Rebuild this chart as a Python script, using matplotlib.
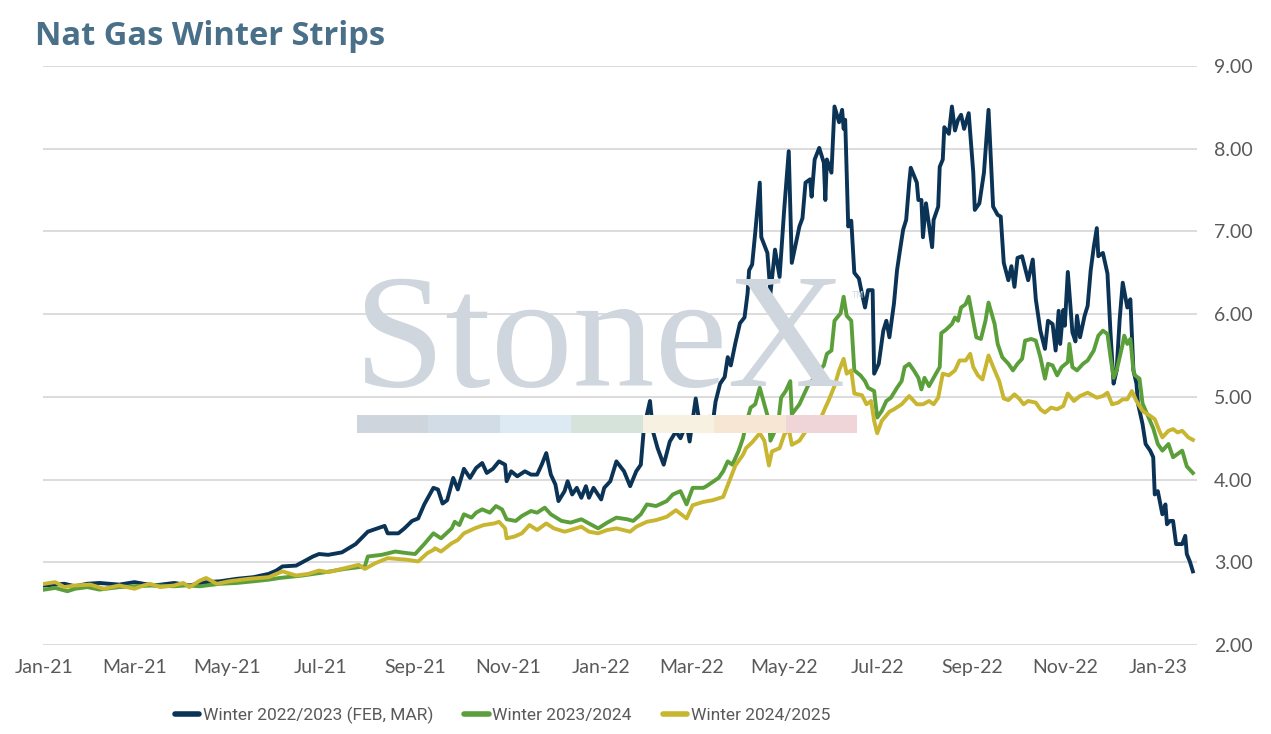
import numpy as np
import pandas as pd
import matplotlib
matplotlib.use('Agg')
import matplotlib.pyplot as plt
import matplotlib.dates as mdates
from matplotlib.ticker import FuncFormatter

START = pd.Timestamp('2021-01-01')

# days since 2021-01-01 / settle price
w2223_days = [0, 13, 20, 28, 36, 49, 59, 65, 72, 85, 95, 106, 115, 126, 137, 147, 152, 156, 165, 176,
              180, 186, 195, 204, 212, 223, 225, 232, 236, 241, 245, 249, 255, 258, 261, 264, 268, 271, 275, 279,
              283, 287, 290, 294, 298, 302, 303, 306, 310, 315, 319, 323, 326, 329, 332, 335, 337, 341, 343, 346,
              349, 352, 355, 357, 360, 365, 367, 371, 375, 380, 384, 388, 391, 393, 397, 399, 402, 406, 410, 414,
              417, 421, 423, 427, 430, 434, 436, 438, 440, 443, 446, 448, 450, 453, 456, 459, 461, 462, 464, 466,
              469, 470, 474, 476, 479, 482, 485, 488, 490, 495, 497, 499, 502, 503, 505, 508, 511, 512, 513, 516,
              518, 521, 523, 524, 525, 527, 529, 531, 534, 536, 538, 540, 543, 544, 547, 550, 552, 554, 557, 559,
              561, 563, 565, 567, 568, 572, 573, 575, 576, 578, 582, 583, 586, 587, 589, 590, 593, 595, 597, 599,
              601, 603, 606, 609, 610, 613, 616, 619, 622, 625, 627, 629, 632, 634, 636, 638, 641, 645, 648, 650,
              653, 656, 658, 661, 663, 665, 666, 668, 669, 671, 674, 676, 677, 679, 682, 684, 686, 688, 690, 691,
              694, 697, 699, 701, 703, 705, 707, 710, 712, 714, 716, 717, 720, 722, 725, 727, 728, 730, 733, 735,
              736, 738, 740, 742, 746, 748, 749, 751, 753]
w2223_vals = [2.72, 2.74, 2.71, 2.74, 2.75, 2.73, 2.76, 2.74, 2.72, 2.75, 2.72, 2.76, 2.77, 2.80, 2.82, 2.86, 2.90, 2.95, 2.96, 3.07,
              3.10, 3.09, 3.12, 3.22, 3.37, 3.44, 3.35, 3.35, 3.41, 3.50, 3.53, 3.70, 3.90, 3.88, 3.71, 3.75, 4.02, 3.88, 4.13, 4.02,
              4.14, 4.20, 4.08, 4.13, 4.22, 4.18, 3.98, 4.10, 4.04, 4.10, 4.06, 4.06, 4.18, 4.32, 4.06, 3.94, 3.74, 3.86, 3.98, 3.82,
              3.90, 3.78, 3.92, 3.78, 3.90, 3.76, 3.90, 3.98, 4.22, 4.10, 3.92, 4.10, 4.18, 4.62, 4.95, 4.58, 4.38, 4.18, 4.46, 4.58,
              4.50, 4.68, 4.46, 4.98, 4.62, 4.64, 4.76, 4.66, 4.94, 5.16, 5.24, 5.48, 5.38, 5.65, 5.89, 5.96, 6.25, 6.53, 6.60, 6.98,
              7.59, 6.93, 6.74, 6.25, 6.78, 6.45, 7.26, 7.97, 6.62, 7.06, 7.16, 7.59, 7.63, 7.42, 7.87, 8.01, 7.83, 7.38, 7.87, 7.71,
              8.51, 8.32, 8.47, 8.24, 8.35, 7.06, 7.13, 6.50, 6.43, 6.25, 6.08, 6.29, 6.29, 5.28, 5.40, 5.80, 5.92, 5.72, 6.13, 6.53,
              6.78, 7.02, 7.14, 7.59, 7.77, 7.59, 7.38, 7.38, 6.93, 7.34, 6.81, 7.14, 7.30, 7.78, 7.87, 8.26, 8.18, 8.51, 8.22, 8.35,
              8.41, 8.24, 8.43, 7.71, 7.26, 7.34, 7.71, 8.47, 7.30, 7.20, 7.18, 6.62, 6.41, 6.58, 6.33, 6.68, 6.70, 6.41, 6.66, 6.18,
              5.80, 5.58, 5.92, 5.88, 5.56, 6.04, 5.64, 6.05, 5.86, 6.51, 5.78, 5.67, 5.98, 5.72, 5.98, 6.10, 6.53, 6.81, 7.04, 6.70,
              6.74, 6.49, 5.77, 5.16, 5.32, 5.94, 6.38, 6.08, 6.18, 5.32, 5.16, 4.92, 4.67, 4.43, 4.35, 4.27, 3.82, 3.86, 3.58, 3.70,
              3.46, 3.50, 3.50, 3.22, 3.22, 3.32, 3.10, 3.01, 2.89]

w2324_days = [0, 7, 13, 15, 20, 28, 36, 49, 59, 72, 85, 93, 102, 115, 126, 137, 147, 154, 169, 184,
              197, 210, 212, 221, 230, 238, 243, 249, 255, 260, 267, 269, 272, 275, 280, 283, 287, 292, 296, 300,
              303, 309, 313, 319, 323, 328, 332, 339, 345, 352, 358, 363, 369, 375, 382, 386, 391, 395, 401, 408,
              412, 417, 421, 425, 432, 434, 438, 442, 445, 448, 451, 455, 458, 460, 463, 466, 469, 472, 475, 476,
              481, 483, 486, 489, 490, 495, 498, 501, 505, 508, 511, 513, 516, 518, 522, 524, 526, 529, 531, 535,
              538, 540, 544, 546, 549, 552, 555, 559, 562, 564, 567, 570, 573, 575, 577, 580, 583, 587, 588, 591,
              595, 597, 599, 601, 604, 606, 609, 611, 614, 617, 619, 623, 625, 628, 632, 635, 638, 641, 643, 647,
              650, 653, 656, 658, 661, 664, 667, 671, 672, 674, 677, 681, 684, 688, 691, 694, 697, 699, 701, 703,
              707, 708, 710, 712, 714, 715, 718, 720, 723, 727, 730, 733, 737, 740, 743, 746, 749, 753]
w2324_vals = [2.67, 2.69, 2.66, 2.65, 2.68, 2.70, 2.67, 2.70, 2.71, 2.72, 2.71, 2.72, 2.71, 2.74, 2.75, 2.77, 2.79, 2.81, 2.84, 2.88,
              2.92, 2.95, 3.07, 3.09, 3.13, 3.11, 3.10, 3.22, 3.35, 3.29, 3.41, 3.49, 3.45, 3.58, 3.54, 3.60, 3.64, 3.60, 3.68, 3.64,
              3.52, 3.50, 3.56, 3.62, 3.60, 3.66, 3.58, 3.50, 3.48, 3.52, 3.46, 3.41, 3.48, 3.54, 3.52, 3.50, 3.58, 3.70, 3.68, 3.74,
              3.82, 3.86, 3.70, 3.90, 3.90, 3.92, 3.97, 4.02, 4.10, 4.22, 4.18, 4.34, 4.50, 4.67, 4.87, 4.91, 5.11, 4.91, 4.71, 4.47,
              4.67, 4.99, 5.07, 5.19, 4.79, 4.91, 5.03, 5.15, 5.23, 5.32, 5.38, 5.52, 5.56, 5.92, 6.01, 6.21, 5.98, 5.92, 5.32, 5.26,
              5.19, 5.11, 5.07, 4.75, 4.83, 4.95, 4.99, 5.11, 5.19, 5.36, 5.40, 5.32, 5.23, 5.09, 5.23, 5.13, 5.23, 5.36, 5.77, 5.81,
              5.88, 5.96, 5.92, 6.08, 6.12, 6.21, 5.92, 5.72, 5.70, 5.92, 6.14, 5.88, 5.64, 5.48, 5.40, 5.32, 5.40, 5.46, 5.68, 5.70,
              5.68, 5.48, 5.22, 5.40, 5.38, 5.26, 5.36, 5.42, 5.64, 5.36, 5.32, 5.40, 5.44, 5.56, 5.74, 5.80, 5.76, 5.48, 5.23, 5.32,
              5.64, 5.74, 5.64, 5.70, 5.32, 5.26, 5.22, 4.92, 4.79, 4.62, 4.43, 4.35, 4.43, 4.27, 4.31, 4.35, 4.16, 4.08]

w2425_days = [0, 7, 13, 20, 30, 39, 49, 59, 65, 69, 76, 85, 91, 95, 102, 106, 113, 121, 134, 147,
              156, 165, 173, 180, 186, 195, 206, 210, 217, 225, 238, 245, 251, 255, 256, 260, 267, 271, 275, 282,
              288, 295, 298, 302, 303, 308, 313, 318, 323, 329, 334, 341, 345, 352, 357, 363, 369, 375, 384, 388,
              395, 401, 408, 414, 421, 425, 432, 438, 445, 449, 453, 458, 460, 464, 469, 472, 475, 477, 482, 485,
              488, 490, 495, 499, 503, 508, 512, 514, 518, 521, 524, 526, 529, 531, 536, 539, 542, 544, 546, 549,
              554, 557, 562, 567, 572, 576, 580, 583, 586, 589, 593, 597, 600, 604, 607, 609, 612, 615, 619, 623,
              626, 629, 632, 636, 639, 642, 645, 650, 653, 656, 660, 664, 668, 671, 675, 679, 684, 690, 694, 697,
              700, 704, 707, 710, 713, 716, 720, 725, 728, 731, 733, 737, 740, 743, 746, 750, 753]
w2425_vals = [2.74, 2.76, 2.70, 2.72, 2.73, 2.68, 2.72, 2.68, 2.72, 2.74, 2.70, 2.72, 2.75, 2.70, 2.78, 2.81, 2.74, 2.77, 2.80, 2.82,
              2.89, 2.84, 2.86, 2.90, 2.88, 2.92, 2.97, 2.92, 2.99, 3.05, 3.03, 3.01, 3.11, 3.15, 3.17, 3.13, 3.23, 3.27, 3.35, 3.41,
              3.45, 3.47, 3.49, 3.41, 3.29, 3.31, 3.35, 3.45, 3.39, 3.47, 3.41, 3.37, 3.39, 3.43, 3.37, 3.35, 3.39, 3.41, 3.37, 3.43,
              3.49, 3.51, 3.55, 3.63, 3.53, 3.69, 3.73, 3.75, 3.79, 3.98, 4.17, 4.30, 4.38, 4.45, 4.56, 4.47, 4.17, 4.34, 4.38, 4.54,
              4.62, 4.42, 4.47, 4.58, 4.62, 4.70, 4.87, 4.95, 5.13, 5.32, 5.46, 5.28, 5.32, 5.04, 5.02, 4.91, 4.95, 4.71, 4.56, 4.71,
              4.82, 4.85, 4.91, 5.01, 4.91, 4.91, 4.95, 4.91, 4.99, 5.28, 5.26, 5.32, 5.44, 5.44, 5.52, 5.36, 5.26, 5.21, 5.50, 5.32,
              5.19, 4.98, 4.96, 5.03, 4.98, 4.91, 4.95, 4.93, 4.85, 4.81, 4.87, 4.85, 4.89, 5.04, 4.95, 5.01, 5.05, 4.99, 5.01, 5.05,
              4.91, 4.93, 4.97, 4.97, 5.07, 4.95, 4.83, 4.77, 4.73, 4.59, 4.51, 4.59, 4.61, 4.57, 4.59, 4.51, 4.48]

SERIES = [
    ('Winter 2022/2023 (FEB, MAR)', w2223_days, w2223_vals, '#0b3356'),
    ('Winter 2023/2024', w2324_days, w2324_vals, '#5b9f3b'),
    ('Winter 2024/2025', w2425_days, w2425_vals, '#c8b530'),
]

Y_TICKS = [2, 3, 4, 5, 6, 7, 8, 9]

TXT_GRAY = '#595959'
GRID = '#d9d9d9'

fig = plt.figure(figsize=(12.71, 7.34), dpi=100)
ax = fig.add_axes([43 / 1271, 1 - 645 / 734, (1197 - 43) / 1271, (645 - 66) / 734])

# StoneX watermark behind the plot
fig.text(354 / 1271, 1 - 386 / 734, 'StoneX', family='Liberation Serif', fontsize=118,
         color='#cfd6de', ha='left', va='baseline', zorder=0)
fig.text(851 / 1271, 1 - 296 / 734, 'TM', family='DejaVu Sans', fontsize=6,
         color='#d6dbe2', ha='left', va='center', zorder=0)
bar_cols = ['#cfd5dd', '#d2dce6', '#deeaf3', '#d6e3da', '#f6f1e0', '#f7e6d4', '#f0d5d8']
seg = 500 / 7
for i, c in enumerate(bar_cols):
    fig.patches.append(plt.Rectangle(((357 + i * seg) / 1271, 1 - 433 / 734), seg / 1271, 18 / 734,
                                     transform=fig.transFigure, color=c, lw=0, zorder=0))
ax.set_facecolor('none')

for name, days, vals, col in SERIES:
    dates = START + pd.to_timedelta(days, unit='D')
    ax.plot(dates, vals, color=col, lw=2.8, label=name, solid_joinstyle='round', zorder=3)

ax.set_ylim(2, 9)
ax.set_yticks(Y_TICKS)
ax.yaxis.set_major_formatter(FuncFormatter(lambda v, p: f'{v:.2f}'))
ax.yaxis.tick_right()
ax.set_xlim(START - pd.Timedelta(days=1.0), START + pd.Timedelta(days=755.7))
ax.xaxis.set_major_locator(mdates.MonthLocator(bymonth=[1, 3, 5, 7, 9, 11]))
ax.xaxis.set_major_formatter(mdates.DateFormatter('%b-%y'))
ax.grid(axis='y', color=GRID, lw=1.3)
ax.set_axisbelow(True)
for s in ax.spines.values():
    s.set_visible(False)
ax.tick_params(length=0, labelsize=14, labelcolor=TXT_GRAY, pad=10)
for lab in ax.get_xticklabels() + ax.get_yticklabels():
    lab.set_family(['Lato', 'DejaVu Sans'])
ax.tick_params(axis='y', pad=12)

fig.text(35 / 1271, 1 - 45 / 734, 'Nat Gas Winter Strips', family=['Open Sans', 'DejaVu Sans'],
         fontsize=23.5, fontweight='bold', color='#4a7089', ha='left', va='baseline')

leg = ax.legend(loc='center left', bbox_to_anchor=(175 / 1271, 1 - 715 / 734), bbox_transform=fig.transFigure,
                ncol=3, frameon=False, handlelength=1.4, handletextpad=0.2, columnspacing=1.8,
                borderaxespad=0, borderpad=0,
                prop={'family': ['Roboto', 'DejaVu Sans'], 'size': 12.5})
for t in leg.get_texts():
    t.set_color(TXT_GRAY)
for h in leg.legend_handles:
    h.set_linewidth(4)
    h.set_solid_capstyle('round')

fig.savefig('out.png', dpi=100)
